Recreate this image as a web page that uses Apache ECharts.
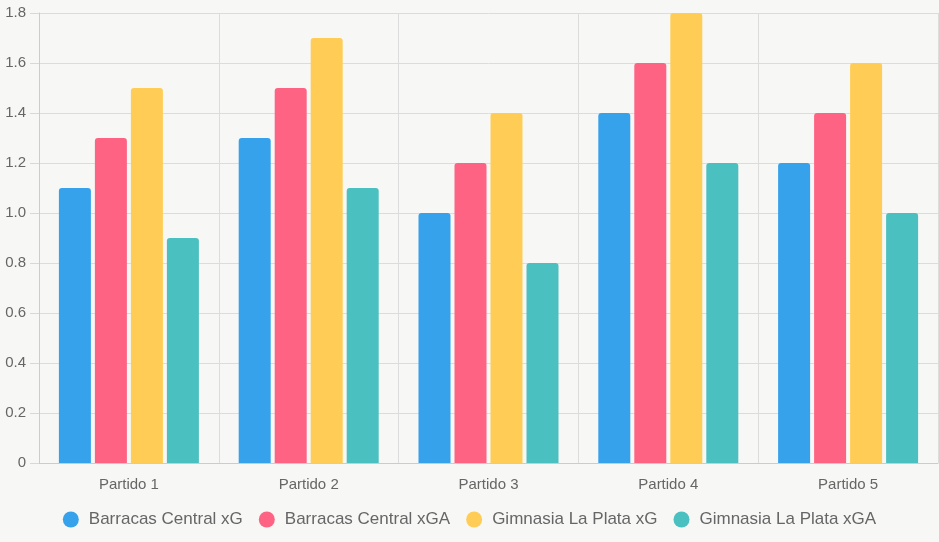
<!DOCTYPE html>
<html>
<head>
<meta charset="utf-8">
<script src="https://cdn.jsdelivr.net/npm/echarts@6/dist/echarts.min.js"></script>
<style>
  html, body { margin: 0; padding: 0; background: #f7f7f5; }
  #chart { width: 939px; height: 542px; }
</style>
</head>
<body>
<div id="chart"></div>
<script>
var partidos = ['Partido 1', 'Partido 2', 'Partido 3', 'Partido 4', 'Partido 5'];
var barracasXG = [1.1, 1.3, 1.0, 1.4, 1.2];
var barracasXGA = [1.3, 1.5, 1.2, 1.6, 1.4];
var gimnasiaXG = [1.5, 1.7, 1.4, 1.8, 1.6];
var gimnasiaXGA = [0.9, 1.1, 0.8, 1.2, 1.0];

var myChart = echarts.init(document.getElementById('chart'));

function bar(name, data, color) {
  return {
    name: name,
    type: 'bar',
    data: data,
    barWidth: 32,
    barGap: '12.5%',
    itemStyle: { color: color, borderRadius: [3, 3, 0, 0] }
  };
}

var option = {
  backgroundColor: '#f7f7f5',
  textStyle: { fontFamily: 'Liberation Sans, Arial, sans-serif' },
  grid: { left: 39, right: 1, top: 13, bottom: 79 },
  legend: {
    bottom: 9,
    icon: 'circle',
    itemWidth: 16,
    itemHeight: 16,
    itemGap: 16,
    textStyle: { color: '#666', fontSize: 17, padding: [0, 0, 0, 5] }
  },
  xAxis: {
    type: 'category',
    data: partidos,
    axisLine: { lineStyle: { color: '#ccc' } },
    axisTick: { length: 8, lineStyle: { color: '#d8d8d8' } },
    axisLabel: { color: '#666', fontSize: 15, margin: 14 },
    splitLine: { show: true, lineStyle: { color: '#dcdcdc' } }
  },
  yAxis: {
    type: 'value',
    min: 0,
    max: 1.8,
    interval: 0.2,
    axisLine: { show: true, lineStyle: { color: '#ccc' } },
    axisTick: { show: true, length: 9, lineStyle: { color: '#d8d8d8' } },
    axisLabel: {
      color: '#666',
      fontSize: 15,
      margin: 13,
      formatter: function (v) { return v === 0 ? '0' : v.toFixed(1); }
    },
    splitLine: { lineStyle: { color: '#dcdcdc' } }
  },
  series: [
    bar('Barracas Central xG', barracasXG, '#36A2EB'),
    bar('Barracas Central xGA', barracasXGA, '#FF6384'),
    bar('Gimnasia La Plata xG', gimnasiaXG, '#FFCD56'),
    bar('Gimnasia La Plata xGA', gimnasiaXGA, '#4BC0C0')
  ]
};

myChart.setOption(option);
</script>
</body>
</html>
